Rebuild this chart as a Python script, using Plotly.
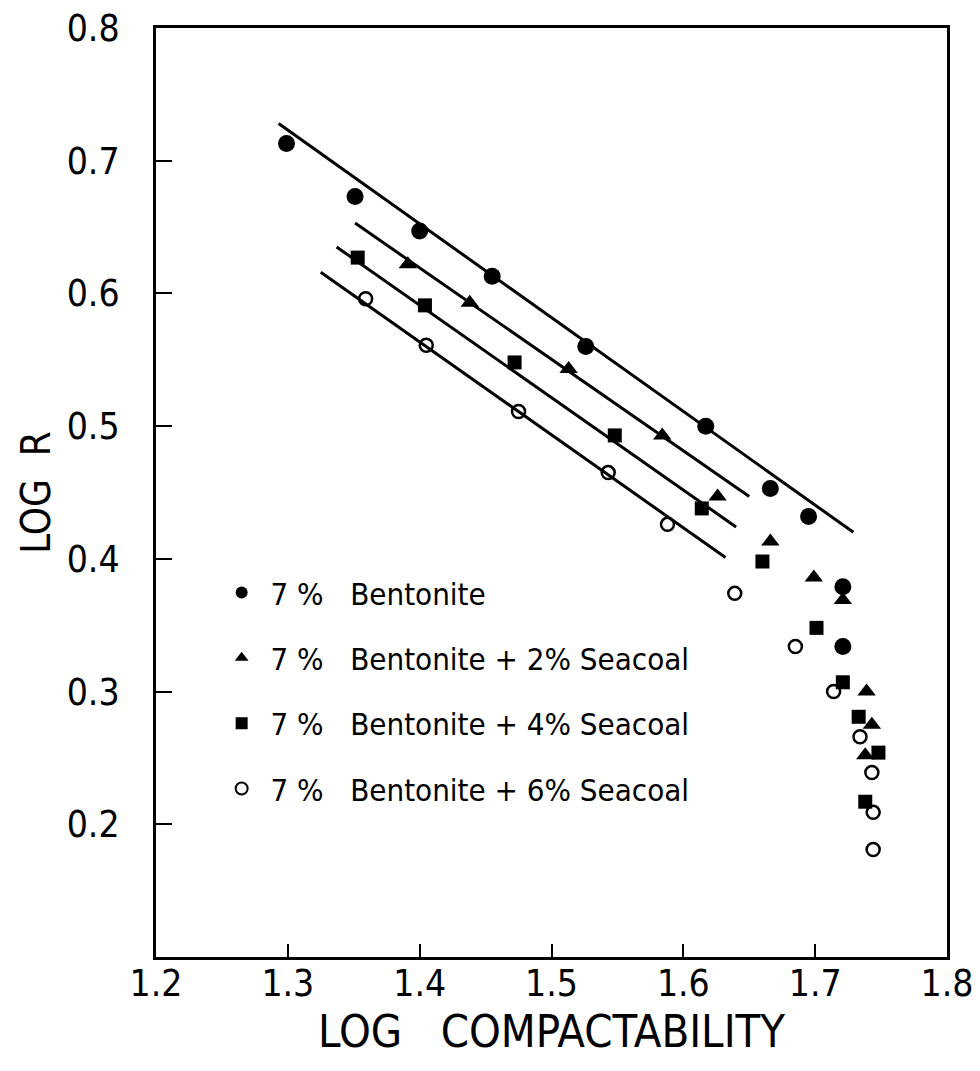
import plotly.graph_objects as go

# data (log compactability vs log R)
bent_x = [1.299, 1.351, 1.400, 1.455, 1.526, 1.617, 1.666, 1.695, 1.721, 1.721]
bent_y = [0.713, 0.673, 0.647, 0.613, 0.560, 0.500, 0.453, 0.432, 0.379, 0.334]

sc2_x = [1.391, 1.438, 1.513, 1.584, 1.626, 1.666, 1.699, 1.721, 1.739, 1.743, 1.738]
sc2_y = [0.622, 0.593, 0.543, 0.493, 0.447, 0.413, 0.386, 0.369, 0.300, 0.275, 0.252]

sc4_x = [1.353, 1.404, 1.472, 1.548, 1.614, 1.660, 1.701, 1.721, 1.733, 1.748, 1.738]
sc4_y = [0.627, 0.591, 0.548, 0.493, 0.438, 0.398, 0.348, 0.307, 0.281, 0.254, 0.217]

sc6_x = [1.359, 1.405, 1.475, 1.543, 1.588, 1.639, 1.685, 1.714, 1.734, 1.743, 1.744, 1.744]
sc6_y = [0.596, 0.561, 0.511, 0.465, 0.426, 0.374, 0.334, 0.300, 0.266, 0.239, 0.209, 0.181]

# straight fit lines (end points)
fit_bent_x, fit_bent_y = [1.293, 1.729], [0.728, 0.420]
fit_sc2_x, fit_sc2_y = [1.351, 1.650], [0.653, 0.447]
fit_sc4_x, fit_sc4_y = [1.337, 1.640], [0.635, 0.424]
fit_sc6_x, fit_sc6_y = [1.325, 1.632], [0.616, 0.401]

x_ticks = [1.2, 1.3, 1.4, 1.5, 1.6, 1.7, 1.8]
y_ticks = [0.2, 0.3, 0.4, 0.5, 0.6, 0.7, 0.8]

FONT = "Liberation Sans Narrow, DejaVu Sans Condensed, Roboto Condensed, Roboto, sans-serif"
NB = "\u00a0"

series = [
    (NB + "7" + NB + "%" + NB * 3 + "Bentonite", bent_x, bent_y, "circle", 17, fit_bent_x, fit_bent_y),
    (NB + "7" + NB + "%" + NB * 3 + "Bentonite" + NB + "+" + NB + "2%" + NB + "Seacoal",
     sc2_x, sc2_y, "triangle-up", 16, fit_sc2_x, fit_sc2_y),
    (NB + "7" + NB + "%" + NB * 3 + "Bentonite" + NB + "+" + NB + "4%" + NB + "Seacoal",
     sc4_x, sc4_y, "square", 14, fit_sc4_x, fit_sc4_y),
    (NB + "7" + NB + "%" + NB * 3 + "Bentonite" + NB + "+" + NB + "6%" + NB + "Seacoal",
     sc6_x, sc6_y, "circle-open", 13, fit_sc6_x, fit_sc6_y),
]

fig = go.Figure()

for i, (name, xs, ys, sym, size, fx, fy) in enumerate(series):
    fig.add_trace(go.Scatter(
        x=fx, y=fy, mode="lines",
        line=dict(color="black", width=3),
        showlegend=False, hoverinfo="skip",
    ))
    fig.add_trace(go.Scatter(
        x=xs, y=ys, mode="markers", name=name,
        legendgroup="g%d" % i,
        marker=dict(symbol=sym, size=size, color="black",
                    line=dict(color="black", width=2.5 if sym == "circle-open" else 0)),
    ))

# page body adds an 8px offset, so the figure is a bit smaller than the window
fig.update_layout(
    width=964, height=1055,
    margin=dict(l=148, r=25, t=20, b=106, autoexpand=False),
    paper_bgcolor="white", plot_bgcolor="white",
    font=dict(family=FONT, color="black", size=34),
    legend=dict(
        x=0.083, y=0.421, xanchor="left", yanchor="top",
        bgcolor="rgba(0,0,0,0)", tracegroupgap=22,
        itemsizing="constant",
        font=dict(family=FONT, size=31, color="black"),
    ),
    xaxis=dict(
        range=[1.2, 1.8], tickvals=x_ticks, ticktext=[f"{v:.1f}" for v in x_ticks],
        showgrid=False, zeroline=False, automargin=False,
        showline=True, linecolor="black", linewidth=3, mirror=True,
        ticks="inside", ticklen=13, tickwidth=2, tickcolor="black",
        tickfont=dict(size=37), ticklabelstandoff=-8, ticklabeloverflow="allow",
        title=dict(text=NB * 3 + "LOG" + NB * 3 + "COMPACTABILITY", font=dict(size=45), standoff=0),
    ),
    yaxis=dict(
        range=[0.1, 0.8], tickvals=y_ticks, ticktext=[f"{v:.1f}" for v in y_ticks],
        showgrid=False, zeroline=False, automargin=False,
        showline=True, linecolor="black", linewidth=3, mirror=True,
        ticks="inside", ticklen=16, tickwidth=2, tickcolor="black",
        tickfont=dict(size=37), ticklabelstandoff=26, ticklabeloverflow="allow",
        title=dict(text="LOG" + NB * 2 + "R", font=dict(size=40), standoff=4),
    ),
)

fig.write_html("out.html")
